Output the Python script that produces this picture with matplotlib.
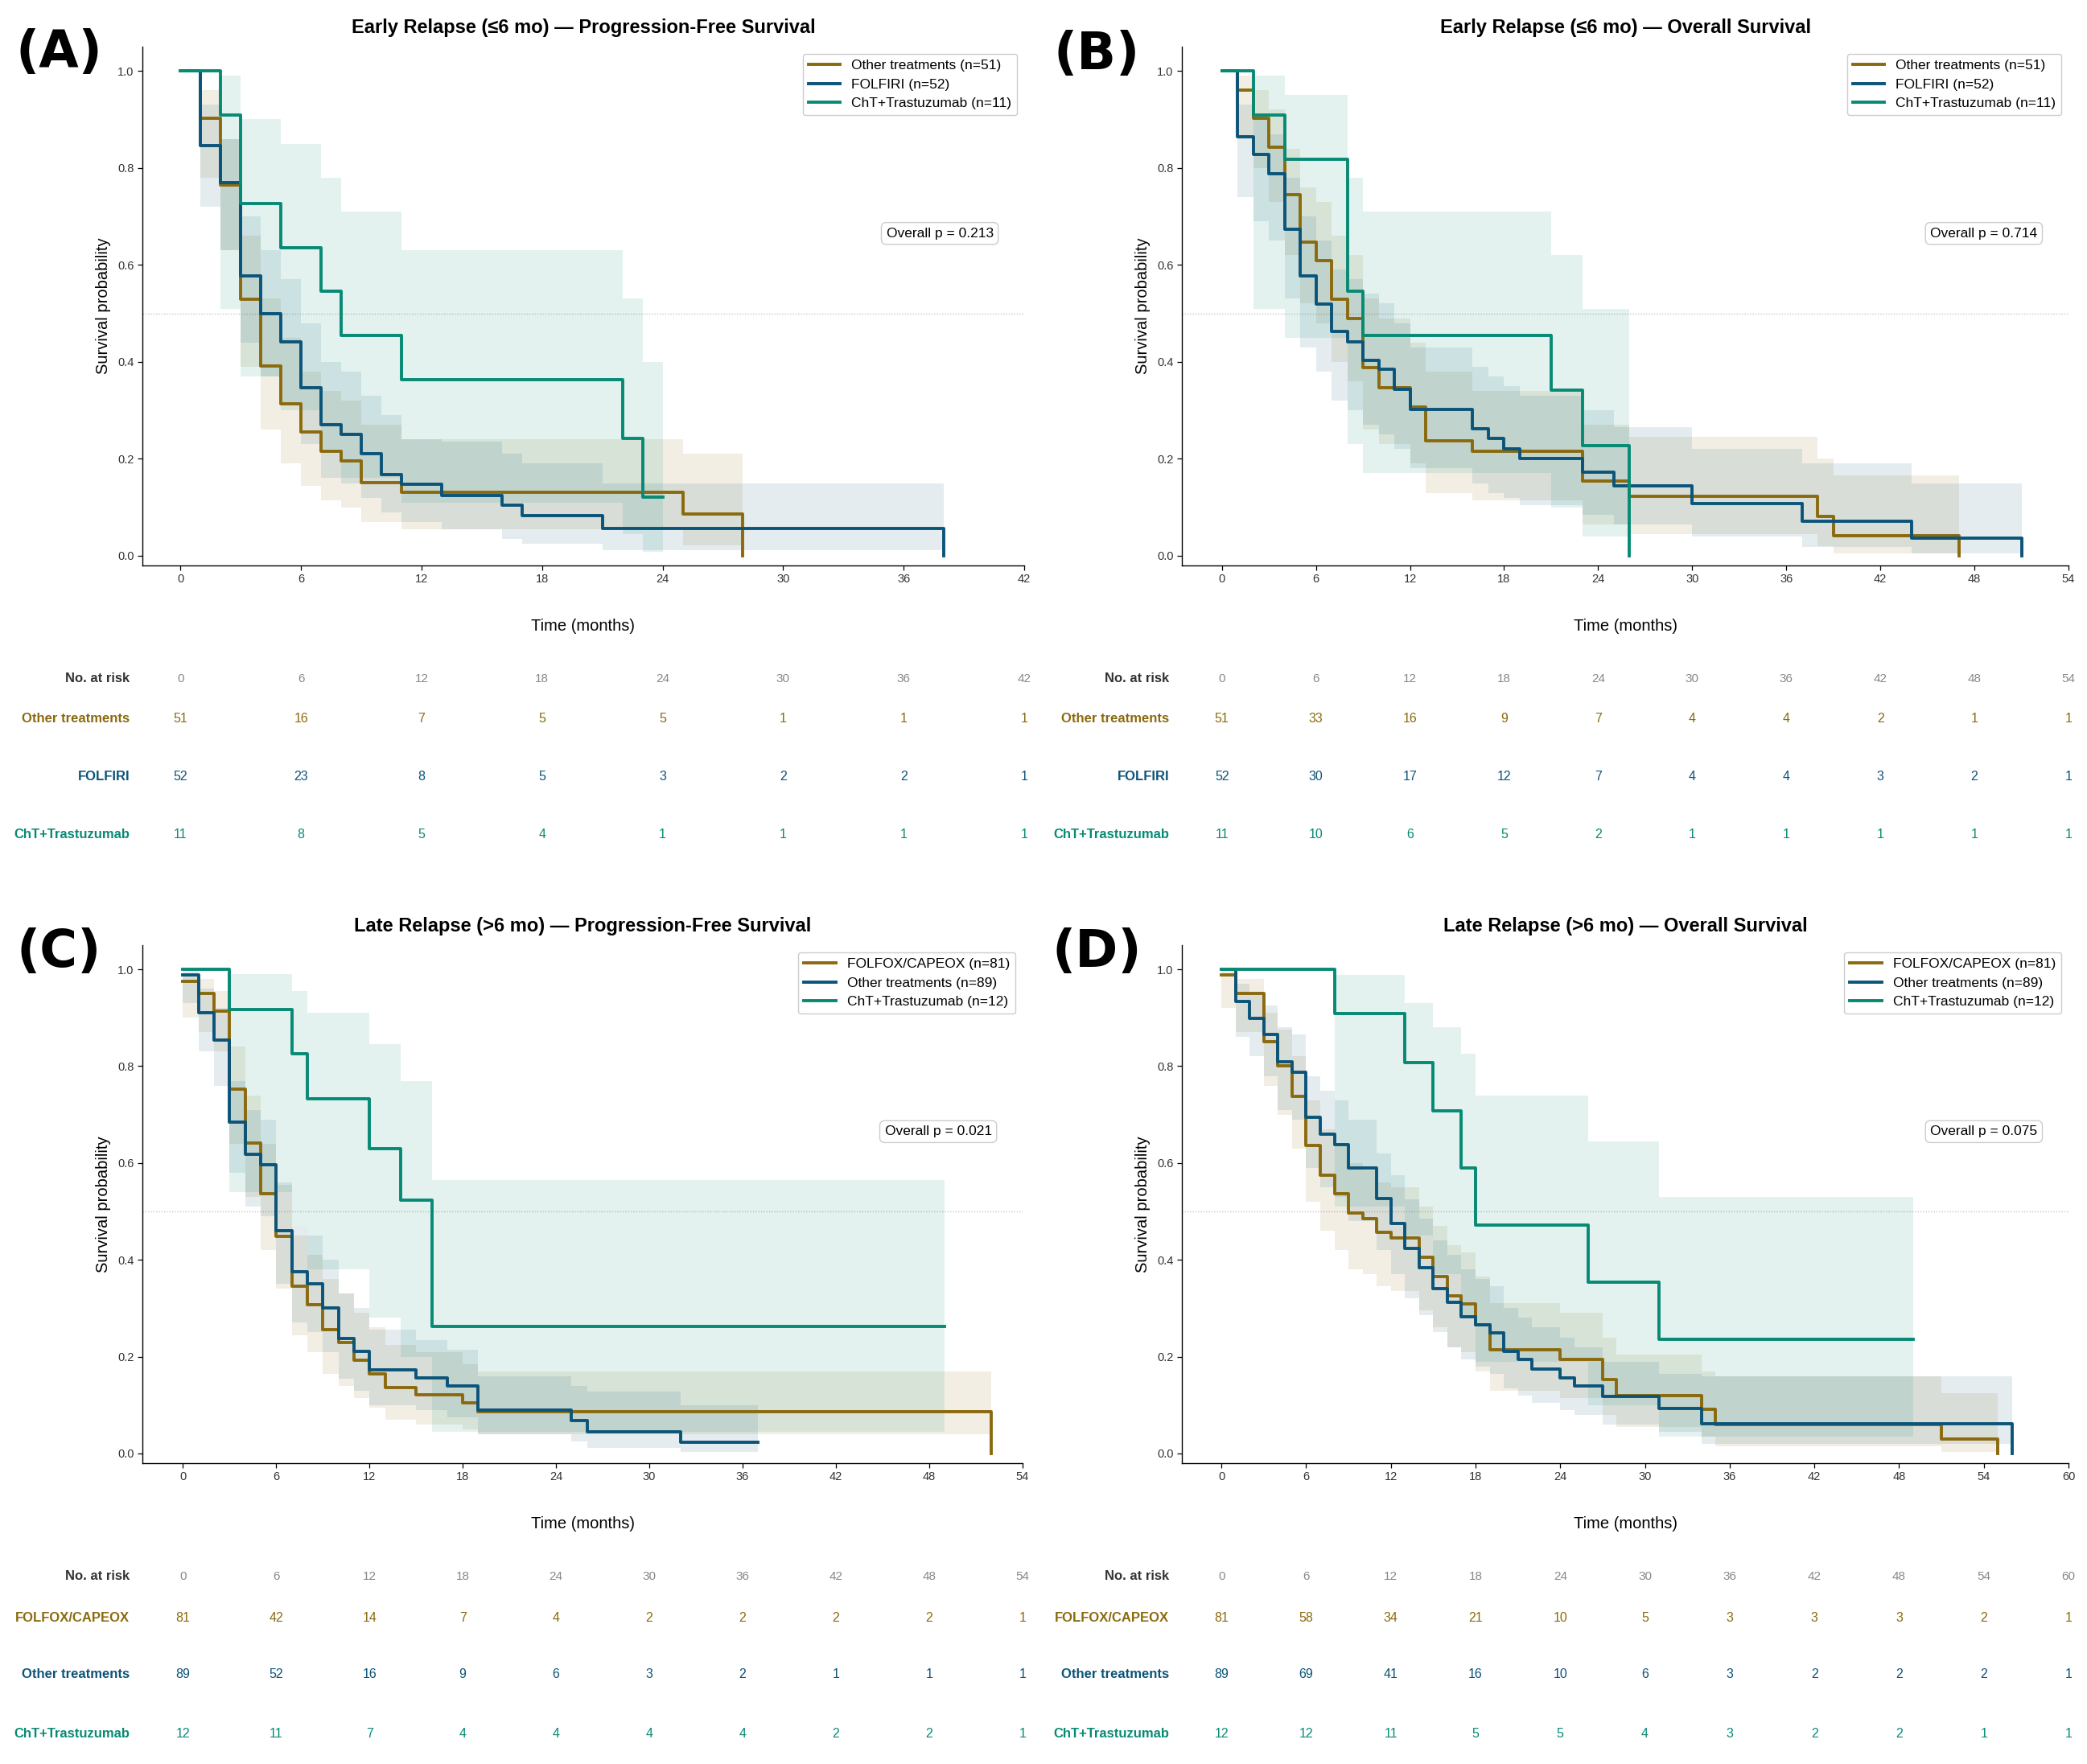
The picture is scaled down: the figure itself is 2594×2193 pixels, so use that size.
import matplotlib

matplotlib.use('Agg')
import matplotlib.pyplot as plt
from matplotlib.transforms import blended_transform_factory

plt.rcParams['font.family'] = ['Liberation Sans', 'DejaVu Sans']

W, H = 2594, 2193

OLIVE = '#8b6a0e'
BLUE = '#0b5479'
TEAL = '#078a74'
COLORS = [OLIVE, BLUE, TEAL]

# ---- Panel A: early relapse, PFS ----
A_OTH_T = [0, 1, 2, 3, 4, 5, 6, 7, 8, 9, 11, 25, 28]
A_OTH_S = [1.0, 0.902, 0.765, 0.529, 0.392, 0.314, 0.255, 0.216, 0.196, 0.151, 0.131, 0.087, 0.0]
A_OTH_LO = [1.0, 0.78, 0.63, 0.39, 0.26, 0.19, 0.145, 0.115, 0.10, 0.07, 0.055, 0.022, 0.022]
A_OTH_HI = [1.0, 0.96, 0.86, 0.66, 0.53, 0.45, 0.38, 0.34, 0.32, 0.27, 0.24, 0.21, 0.21]

A_FOL_T = [0, 1, 2, 3, 4, 5, 6, 7, 8, 9, 10, 11, 13, 16, 17, 21, 38]
A_FOL_S = [1.0, 0.846, 0.770, 0.577, 0.500, 0.442, 0.346, 0.270, 0.250, 0.210, 0.168, 0.147, 0.125, 0.104,
           0.083, 0.056, 0.0]
A_FOL_LO = [1.0, 0.72, 0.63, 0.44, 0.37, 0.31, 0.23, 0.16, 0.15, 0.12, 0.09, 0.07, 0.055, 0.035, 0.025, 0.012,
            0.012]
A_FOL_HI = [1.0, 0.93, 0.86, 0.70, 0.63, 0.57, 0.48, 0.40, 0.38, 0.33, 0.29, 0.24, 0.235, 0.21, 0.19, 0.15, 0.15]

A_CHT_T = [0, 2, 3, 5, 7, 8, 11, 22, 23, 24]
A_CHT_S = [1.0, 0.909, 0.727, 0.636, 0.545, 0.455, 0.364, 0.242, 0.121, 0.121]
A_CHT_LO = [1.0, 0.51, 0.37, 0.30, 0.22, 0.16, 0.11, 0.045, 0.008, 0.008]
A_CHT_HI = [1.0, 0.99, 0.90, 0.85, 0.78, 0.71, 0.63, 0.53, 0.40, 0.40]

# ---- Panel B: early relapse, OS ----
B_OTH_T = [0, 1, 2, 3, 4, 5, 6, 7, 8, 9, 10, 12, 13, 16, 23, 26, 38, 39, 47]
B_OTH_S = [1.0, 0.961, 0.902, 0.843, 0.745, 0.647, 0.608, 0.529, 0.490, 0.388, 0.347, 0.306, 0.237, 0.216,
           0.154, 0.123, 0.082, 0.041, 0.0]
B_OTH_LO = [1.0, 0.86, 0.80, 0.73, 0.62, 0.52, 0.48, 0.40, 0.36, 0.26, 0.23, 0.19, 0.13, 0.115, 0.065, 0.045,
            0.02, 0.005, 0.005]
B_OTH_HI = [1.0, 0.99, 0.96, 0.92, 0.84, 0.76, 0.73, 0.66, 0.62, 0.53, 0.49, 0.44, 0.38, 0.34, 0.27, 0.245,
            0.20, 0.165, 0.165]

B_FOL_T = [0, 1, 2, 3, 4, 5, 6, 7, 8, 9, 10, 11, 12, 16, 17, 18, 19, 23, 25, 30, 37, 44, 51]
B_FOL_S = [1.0, 0.865, 0.827, 0.788, 0.673, 0.577, 0.519, 0.462, 0.442, 0.403, 0.384, 0.344, 0.302, 0.262,
           0.242, 0.221, 0.201, 0.172, 0.144, 0.108, 0.072, 0.036, 0.0]
B_FOL_LO = [1.0, 0.74, 0.69, 0.65, 0.53, 0.43, 0.38, 0.32, 0.30, 0.27, 0.25, 0.22, 0.18, 0.15, 0.13, 0.12,
            0.105, 0.085, 0.065, 0.04, 0.018, 0.005, 0.005]
B_FOL_HI = [1.0, 0.93, 0.90, 0.87, 0.78, 0.70, 0.65, 0.59, 0.57, 0.54, 0.52, 0.48, 0.43, 0.39, 0.37, 0.35,
            0.33, 0.30, 0.265, 0.22, 0.19, 0.15, 0.15]

B_CHT_T = [0, 2, 4, 8, 9, 21, 23, 26]
B_CHT_S = [1.0, 0.909, 0.818, 0.545, 0.455, 0.341, 0.227, 0.0]
B_CHT_LO = [1.0, 0.51, 0.45, 0.23, 0.17, 0.10, 0.04, 0.04]
B_CHT_HI = [1.0, 0.99, 0.95, 0.78, 0.71, 0.62, 0.51, 0.51]

# ---- Panel C: late relapse, PFS ----
C_FOX_T = [0, 1, 2, 3, 4, 5, 6, 7, 8, 9, 10, 11, 12, 13, 15, 18, 19, 52]
C_FOX_S = [0.975, 0.950, 0.914, 0.753, 0.642, 0.537, 0.449, 0.345, 0.308, 0.255, 0.230, 0.193, 0.165, 0.136,
           0.121, 0.104, 0.087, 0.0]
C_FOX_LO = [0.90, 0.87, 0.83, 0.64, 0.53, 0.42, 0.34, 0.245, 0.21, 0.165, 0.14, 0.115, 0.095, 0.07, 0.06, 0.05,
            0.04, 0.04]
C_FOX_HI = [0.99, 0.98, 0.955, 0.84, 0.74, 0.64, 0.555, 0.45, 0.41, 0.36, 0.33, 0.29, 0.26, 0.225, 0.21, 0.185,
            0.17, 0.17]

C_OTH_T = [0, 1, 2, 3, 4, 5, 6, 7, 8, 9, 10, 11, 12, 15, 17, 19, 25, 26, 32, 37]
C_OTH_S = [0.989, 0.910, 0.854, 0.685, 0.618, 0.596, 0.460, 0.376, 0.351, 0.301, 0.238, 0.211, 0.173, 0.156,
           0.139, 0.090, 0.068, 0.045, 0.023, 0.023]
C_OTH_LO = [0.93, 0.83, 0.76, 0.58, 0.51, 0.49, 0.35, 0.27, 0.25, 0.21, 0.155, 0.13, 0.10, 0.09, 0.075, 0.04,
            0.025, 0.012, 0.003, 0.003]
C_OTH_HI = [1.0, 0.96, 0.92, 0.77, 0.71, 0.69, 0.56, 0.47, 0.45, 0.40, 0.33, 0.30, 0.255, 0.235, 0.215, 0.16,
            0.14, 0.128, 0.10, 0.10]

C_CHT_T = [0, 3, 7, 8, 12, 14, 16, 49]
C_CHT_S = [1.0, 0.917, 0.825, 0.733, 0.630, 0.524, 0.262, 0.262]
C_CHT_LO = [1.0, 0.54, 0.47, 0.38, 0.28, 0.20, 0.045, 0.045]
C_CHT_HI = [1.0, 0.99, 0.955, 0.91, 0.845, 0.77, 0.565, 0.565]

# ---- Panel D: late relapse, OS ----
D_FOX_T = [0, 1, 3, 4, 5, 6, 7, 8, 9, 10, 11, 12, 14, 15, 16, 17, 18, 19, 24, 27, 28, 34, 35, 51, 55]
D_FOX_S = [0.988, 0.951, 0.850, 0.801, 0.738, 0.636, 0.574, 0.536, 0.496, 0.485, 0.457, 0.445, 0.405, 0.365,
           0.325, 0.309, 0.265, 0.214, 0.195, 0.152, 0.120, 0.092, 0.059, 0.030, 0.0]
D_FOX_LO = [0.92, 0.87, 0.76, 0.70, 0.63, 0.52, 0.46, 0.42, 0.38, 0.37, 0.345, 0.335, 0.295, 0.26, 0.22, 0.21,
            0.17, 0.13, 0.115, 0.08, 0.055, 0.035, 0.015, 0.003, 0.003]
D_FOX_HI = [1.0, 0.98, 0.91, 0.875, 0.82, 0.73, 0.67, 0.635, 0.60, 0.585, 0.56, 0.55, 0.51, 0.47, 0.43, 0.415,
            0.365, 0.31, 0.29, 0.24, 0.205, 0.17, 0.16, 0.125, 0.125]

D_OTH_T = [0, 1, 2, 3, 4, 5, 6, 7, 8, 9, 11, 12, 13, 14, 15, 16, 17, 18, 19, 20, 21, 22, 24, 25, 27, 31, 34, 56]
D_OTH_S = [1.0, 0.934, 0.899, 0.865, 0.809, 0.787, 0.695, 0.660, 0.638, 0.589, 0.526, 0.475, 0.424, 0.384,
           0.341, 0.313, 0.283, 0.265, 0.249, 0.211, 0.195, 0.175, 0.156, 0.140, 0.118, 0.093, 0.062, 0.0]
D_OTH_LO = [1.0, 0.86, 0.82, 0.78, 0.71, 0.69, 0.59, 0.55, 0.53, 0.48, 0.42, 0.37, 0.32, 0.285, 0.25, 0.22,
            0.195, 0.18, 0.165, 0.135, 0.12, 0.105, 0.09, 0.08, 0.06, 0.045, 0.02, 0.02]
D_OTH_HI = [1.0, 0.97, 0.95, 0.925, 0.88, 0.865, 0.78, 0.75, 0.73, 0.69, 0.62, 0.575, 0.525, 0.485, 0.44, 0.41,
            0.38, 0.36, 0.345, 0.30, 0.28, 0.26, 0.24, 0.22, 0.19, 0.165, 0.16, 0.16]

D_CHT_T = [0, 8, 13, 15, 17, 18, 26, 31, 49]
D_CHT_S = [1.0, 0.909, 0.808, 0.707, 0.589, 0.471, 0.354, 0.236, 0.236]
D_CHT_LO = [1.0, 0.51, 0.45, 0.37, 0.28, 0.19, 0.10, 0.035, 0.035]
D_CHT_HI = [1.0, 0.988, 0.93, 0.88, 0.825, 0.74, 0.645, 0.53, 0.53]

# ---- labels, p-values, numbers at risk ----
EARLY_GROUPS = ['Other treatments', 'FOLFIRI', 'ChT+Trastuzumab']
EARLY_N = [51, 52, 11]
LATE_GROUPS = ['FOLFOX/CAPEOX', 'Other treatments', 'ChT+Trastuzumab']
LATE_N = [81, 89, 12]

TITLES = ['Early Relapse (≤6 mo) — Progression-Free Survival',
          'Early Relapse (≤6 mo) — Overall Survival',
          'Late Relapse (>6 mo) — Progression-Free Survival',
          'Late Relapse (>6 mo) — Overall Survival']
PANEL_TAGS = ['(A)', '(B)', '(C)', '(D)']
P_VALUES = [0.213, 0.714, 0.021, 0.075]
X_MAX = [42, 54, 54, 60]

A_RISK_OTH = [51, 16, 7, 5, 5, 1, 1, 1]
A_RISK_FOL = [52, 23, 8, 5, 3, 2, 2, 1]
A_RISK_CHT = [11, 8, 5, 4, 1, 1, 1, 1]

B_RISK_OTH = [51, 33, 16, 9, 7, 4, 4, 2, 1, 1]
B_RISK_FOL = [52, 30, 17, 12, 7, 4, 4, 3, 2, 1]
B_RISK_CHT = [11, 10, 6, 5, 2, 1, 1, 1, 1, 1]

C_RISK_FOX = [81, 42, 14, 7, 4, 2, 2, 2, 2, 1]
C_RISK_OTH = [89, 52, 16, 9, 6, 3, 2, 1, 1, 1]
C_RISK_CHT = [12, 11, 7, 4, 4, 4, 4, 2, 2, 1]

D_RISK_FOX = [81, 58, 34, 21, 10, 5, 3, 3, 3, 2, 1]
D_RISK_OTH = [89, 69, 41, 16, 10, 6, 3, 2, 2, 2, 1]
D_RISK_CHT = [12, 12, 11, 5, 5, 4, 3, 2, 2, 1, 1]

PANELS = [
    dict(curves=[(A_OTH_T, A_OTH_S, A_OTH_LO, A_OTH_HI), (A_FOL_T, A_FOL_S, A_FOL_LO, A_FOL_HI),
                 (A_CHT_T, A_CHT_S, A_CHT_LO, A_CHT_HI)],
         groups=EARLY_GROUPS, n=EARLY_N, risk=[A_RISK_OTH, A_RISK_FOL, A_RISK_CHT]),
    dict(curves=[(B_OTH_T, B_OTH_S, B_OTH_LO, B_OTH_HI), (B_FOL_T, B_FOL_S, B_FOL_LO, B_FOL_HI),
                 (B_CHT_T, B_CHT_S, B_CHT_LO, B_CHT_HI)],
         groups=EARLY_GROUPS, n=EARLY_N, risk=[B_RISK_OTH, B_RISK_FOL, B_RISK_CHT]),
    dict(curves=[(C_FOX_T, C_FOX_S, C_FOX_LO, C_FOX_HI), (C_OTH_T, C_OTH_S, C_OTH_LO, C_OTH_HI),
                 (C_CHT_T, C_CHT_S, C_CHT_LO, C_CHT_HI)],
         groups=LATE_GROUPS, n=LATE_N, risk=[C_RISK_FOX, C_RISK_OTH, C_RISK_CHT]),
    dict(curves=[(D_FOX_T, D_FOX_S, D_FOX_LO, D_FOX_HI), (D_OTH_T, D_OTH_S, D_OTH_LO, D_OTH_HI),
                 (D_CHT_T, D_CHT_S, D_CHT_LO, D_CHT_HI)],
         groups=LATE_GROUPS, n=LATE_N, risk=[D_RISK_FOX, D_RISK_OTH, D_RISK_CHT]),
]

# layout in pixels (left, top, right, bottom)
PLOT_BOX = [(177, 58, 1273, 703), (1469, 58, 2571, 703), (177, 1175, 1271, 1819), (1469, 1175, 2571, 1819)]
TABLE_TB = [(815, 1065), (815, 1065), (1930, 2185), (1930, 2185)]
ROW_Y = [[844, 894, 966, 1038], [844, 894, 966, 1038], [1960, 2011, 2082, 2155], [1960, 2011, 2082, 2155]]
TAG_XY = [(73, 66), (1363, 68), (73, 1184), (1363, 1184)]


def px_rect(l, t, r, b):
    return [l / W, 1 - b / H, (r - l) / W, (b - t) / H]


fig = plt.figure(figsize=(W / 100, H / 100), dpi=100)

for i, panel in enumerate(PANELS):
    l, t, r, b = PLOT_BOX[i]
    ax = fig.add_axes(px_rect(l, t, r, b))

    for (tt, ss, lo, hi), c in zip(panel['curves'], COLORS):
        ax.fill_between(tt, lo, hi, step='post', color=c, alpha=0.11, linewidth=0)
    for (tt, ss, lo, hi), c, g, n in zip(panel['curves'], COLORS, panel['groups'], panel['n']):
        ax.step(tt, ss, where='post', color=c, linewidth=2.8, label=f'{g} (n={n})')

    ax.axhline(0.5, color='#bbbbbb', linestyle=':', linewidth=0.9, zorder=0)
    ax.set_ylim(-0.02, 1.05)
    ax.set_xlim(right=X_MAX[i])
    ax.set_xticks(range(0, X_MAX[i] + 1, 6))
    ax.set_yticks([0, 0.2, 0.4, 0.6, 0.8, 1.0])
    ax.set_yticklabels([f'{v:.1f}' for v in [0, 0.2, 0.4, 0.6, 0.8, 1.0]])
    ax.tick_params(labelsize=10.5, labelcolor='#333333', length=4, width=0.9)
    for side in ['top', 'right']:
        ax.spines[side].set_visible(False)
    for side in ['left', 'bottom']:
        ax.spines[side].set_linewidth(1.0)

    ax.set_title(TITLES[i], fontsize=17, fontweight='bold', pad=12)
    ax.set_xlabel('Time (months)', fontsize=14.5, labelpad=30)
    ax.set_ylabel('Survival probability', fontsize=14.5, labelpad=6)

    leg = ax.legend(loc='upper right', fontsize=12.5, handlelength=2.3, borderaxespad=0.5, fancybox=True,
                    framealpha=1.0)
    leg.get_frame().set_edgecolor('#cccccc')

    ax.text(0.965, 0.64, f'Overall p = {P_VALUES[i]:.3f}', transform=ax.transAxes, ha='right', va='center',
            fontsize=12.5, bbox=dict(boxstyle='round,pad=0.35', fc='white', ec='#cccccc', lw=1.0))

    # number-at-risk table
    top, bottom = TABLE_TB[i]
    tab = fig.add_axes(px_rect(l, top, r, bottom))
    tab.set_xlim(ax.get_xlim())
    tab.set_ylim(bottom, top)
    tab.axis('off')
    lab_tr = blended_transform_factory(tab.transAxes, tab.transData)
    lab_x = -16 / (r - l)
    rows = ROW_Y[i]
    ticks = list(range(0, X_MAX[i] + 1, 6))

    tab.text(lab_x, rows[0], 'No. at risk', transform=lab_tr, ha='right', va='center', fontsize=12,
             fontweight='bold', color='#333333')
    for tk in ticks:
        tab.text(tk, rows[0], str(tk), ha='center', va='center', fontsize=11, color='#888888')
    for g, counts, c, y in zip(panel['groups'], panel['risk'], COLORS, rows[1:]):
        tab.text(lab_x, y, g, transform=lab_tr, ha='right', va='center', fontsize=12, fontweight='bold', color=c)
        for tk, cnt in zip(ticks, counts):
            tab.text(tk, y, str(cnt), ha='center', va='center', fontsize=11.5, color=c)

    fig.text(TAG_XY[i][0] / W, 1 - TAG_XY[i][1] / H, PANEL_TAGS[i], ha='center', va='center', fontsize=46,
             fontweight='bold', family='DejaVu Sans')

fig.savefig('out.png', dpi=100)
